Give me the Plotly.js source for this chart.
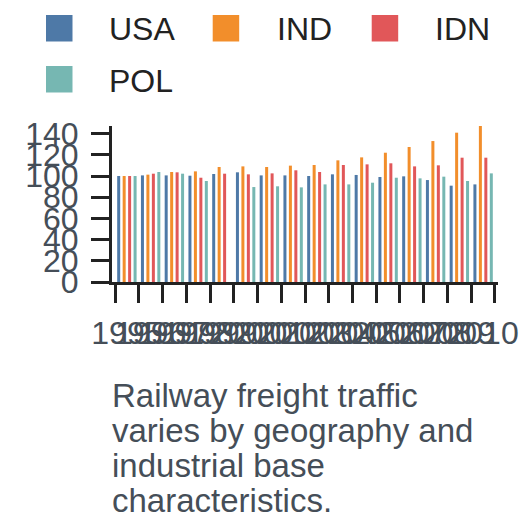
<!DOCTYPE html>
<html>
<head>
<meta charset="utf-8">
<script src="https://cdn.plot.ly/plotly-3.0.1.min.js"></script>
<style>html,body{margin:0;padding:0;background:#fff;}#chart{width:528px;height:528px;}</style>
</head>
<body>
<div id="chart"></div>
<script>
// ---- data ----
const years = ['1995','1996','1997','1998','1999','2000','2001','2002','2003','2004','2005','2006','2007','2008','2009','2010'];
const seriesNames = ['USA','IND','IDN','POL'];
const usa = [100, 100.6, 100.6, 100.3, 101.9, 103.5, 100.6, 100.6, 100.0, 101.6, 101.0, 99.1, 99.7, 96.2, 90.9, 92.1];
const ind = [100, 101.3, 103.8, 104.4, 108.5, 109.1, 108.5, 109.8, 110.4, 114.8, 117.6, 122.0, 127.4, 133.0, 140.9, 147.2];
const idn = [100, 102.2, 103.5, 98.4, 102.2, 101.6, 102.5, 105.4, 103.8, 110.4, 111.0, 112.0, 109.1, 110.1, 117.3, 117.3];
const pol = [100, 103.8, 102.2, 95.3, null, 89.6, 90.3, 89.3, 92.1, 92.1, 93.7, 98.4, 97.8, 99.4, 95.3, 102.5];
const yTicks = [0, 20, 40, 60, 80, 100, 120, 140];
const captionLines = ['Railway freight traffic', 'varies by geography and', 'industrial base', 'characteristics.'];

// ---- styling ----
const colors = ['#4e79a7', '#f28e2b', '#e15759', '#76b7b2'];
const values = [usa, ind, idn, pol];
const FONT = 'Liberation Sans, Arial, Helvetica, sans-serif';
const L = 112, R = 30, T = 126, B = 246, WID = 528, HEI = 528;
const W = WID - L - R, H = HEI - T - B, BOT = HEI - B;
const px = x => (x - L) / W;
const py = y => (BOT - y) / H;
const pad = 0.127; // small inset of the band scale from the axis ends

const traces = seriesNames.map((n, i) => ({
  type: 'bar', name: n, x: years, y: values[i],
  marker: {color: colors[i], line: {width: 0}},
  showlegend: false, hoverinfo: 'x+y+name'
}));

const shapes = [];
const annotations = [];
const legendPos = [
  {sx: 46, sy: 15, tx: 107, ty: 28.7},
  {sx: 212.7, sy: 15, tx: 275, ty: 28.7},
  {sx: 371.7, sy: 15, tx: 433, ty: 28.7},
  {sx: 46, sy: 66, tx: 107, ty: 80.8}
];
seriesNames.forEach((n, i) => {
  const p = legendPos[i];
  shapes.push({type: 'rect', xref: 'paper', yref: 'paper',
    x0: px(p.sx), x1: px(p.sx + 26.5), y0: py(p.sy + 26.5), y1: py(p.sy),
    fillcolor: colors[i], line: {width: 0}});
  annotations.push({xref: 'paper', yref: 'paper', x: px(p.tx), y: py(p.ty),
    xanchor: 'left', yanchor: 'middle', showarrow: false, text: n,
    font: {family: FONT, size: 32, color: '#222'}});
});
const capY = [395, 430.2, 465.4, 500.6];
captionLines.forEach((t, i) => {
  annotations.push({xref: 'paper', yref: 'paper', x: px(110), y: py(capY[i]),
    xanchor: 'left', yanchor: 'middle', showarrow: false, text: t,
    font: {family: FONT, size: 33, color: '#454e58'}});
});

const layout = {
  width: WID, height: HEI,
  margin: {l: L, r: R, t: T, b: B, pad: 0},
  paper_bgcolor: '#fff', plot_bgcolor: '#fff',
  barmode: 'group', bargap: 0.08, bargroupgap: 0.45,
  font: {family: FONT, size: 32, color: '#454e58'},
  showlegend: false,
  xaxis: {
    type: 'category', tickson: 'boundaries', tickmode: 'linear', tick0: 0, dtick: 1,
    range: [-0.5 - pad, years.length - 0.5 + pad],
    ticks: 'outside', ticklen: 18, tickwidth: 3, tickcolor: '#222',
    showline: true, linecolor: '#222', linewidth: 3, showgrid: false, zeroline: false,
    tickangle: 0, tickfont: {family: FONT, size: 32, color: '#454e58'},
    ticklabelstandoff: 21, fixedrange: true
  },
  yaxis: {
    range: [0, 147.2], tickmode: 'array', tickvals: yTicks, ticktext: yTicks.map(String),
    ticks: 'outside', ticklen: 18, tickwidth: 3, tickcolor: '#222',
    showline: true, linecolor: '#222', linewidth: 3, showgrid: false, zeroline: false,
    tickfont: {family: FONT, size: 32, color: '#454e58'},
    ticklabelstandoff: 6, fixedrange: true
  },
  shapes: shapes,
  annotations: annotations
};

Plotly.newPlot('chart', traces, layout, {displayModeBar: false, staticPlot: true});
</script>
</body>
</html>
